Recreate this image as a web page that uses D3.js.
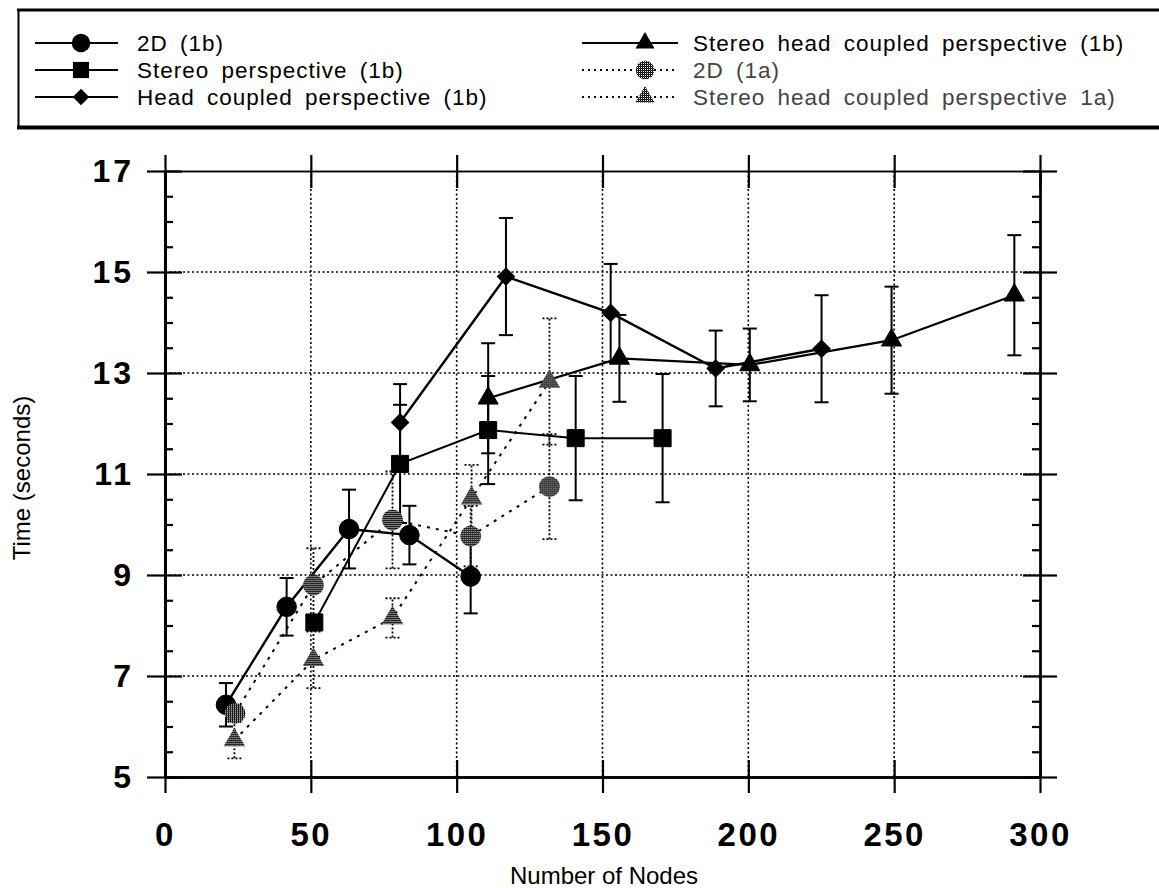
<!DOCTYPE html>
<html><head><meta charset="utf-8">
<script src="https://cdn.jsdelivr.net/npm/d3@7"></script>
<style>body{margin:0;background:#fff}svg{display:block}</style>
</head><body>
<svg id="chart" width="1159" height="888"></svg>
<script>
// ---------- data ----------
const seriesNames = ["2D (1b)", "Stereo perspective (1b)", "Head coupled perspective (1b)",
  "Stereo head coupled perspective (1b)", "2D (1a)", "Stereo head coupled perspective 1a)"];
const x2D1b = [20.9, 41.7, 63.1, 83.8, 104.8];
const y2D1b = [6.43, 8.37, 9.91, 9.79, 8.97];
const e2D1b = [0.43, 0.57, 0.78, 0.58, 0.73];
const xSP1b = [51.2, 80.6, 110.8, 140.8, 170.6];
const ySP1b = [8.06, 11.20, 11.87, 11.71, 11.71];
const eSP1b = [0, 1.17, 1.07, 1.23, 1.27];
const xHC1b = [80.6, 116.9, 152.8, 188.8, 225.1];
const yHC1b = [12.02, 14.91, 14.19, 13.09, 13.48];
const eHC1b = [0.76, 1.16, 0.97, 0.75, 1.06];
const xSHC1b = [110.8, 155.8, 200.5, 249.1, 291.2];
const ySHC1b = [12.50, 13.29, 13.16, 13.65, 14.54];
const eSHC1b = [1.09, 0.86, 0.72, 1.06, 1.19];
const x2D1a = [24.0, 50.9, 78.0, 104.8, 131.8];
const y2D1a = [6.26, 8.80, 10.09, 9.77, 10.75];
const e2D1a = [0, 0.73, 0.96, 0.6, 1.04];
const xSHC1a = [23.8, 50.9, 78.0, 105.1, 131.8];
const ySHC1a = [5.73, 7.32, 8.15, 10.52, 12.83];
const eSHC1a = [0.36, 0.56, 0.39, 0.66, 1.25];
const xTicks = [0, 50, 100, 150, 200, 250, 300];
const yTicks = [5, 7, 9, 11, 13, 15, 17];
const xTitle = "Number of Nodes";
const yTitle = "Time (seconds)";

// ---------- setup ----------
const svg = d3.select("#chart");
const defs = svg.append("defs");
const pat = defs.append("pattern").attr("id", "hatch").attr("patternUnits", "userSpaceOnUse")
  .attr("width", 2).attr("height", 2);
pat.append("rect").attr("width", 2).attr("height", 2).attr("fill", "#fff");
pat.append("rect").attr("x", 0).attr("y", 0).attr("width", 1).attr("height", 1).attr("fill", "#000").attr("shape-rendering", "crispEdges");
pat.append("rect").attr("x", 1).attr("y", 1).attr("width", 1).attr("height", 1).attr("fill", "#000").attr("shape-rendering", "crispEdges");
pat.append("rect").attr("x", 1).attr("y", 0).attr("width", 1).attr("height", 1).attr("fill", "#333").attr("shape-rendering", "crispEdges");

const L = 165, R = 1040, T = 171, B = 777;
const x = d3.scaleLinear().domain([0, 300]).range([L, R]);
const y = d3.scaleLinear().domain([5, 17]).range([B, T]);
const FONT = "'Liberation Sans', Arial, Helvetica, sans-serif";

// gridlines
const grid = svg.append("g");
grid.selectAll("line.gx").data(xTicks.filter(d => d > 0 && d < 300)).join("line")
  .attr("x1", d => x(d)).attr("x2", d => x(d)).attr("y1", T).attr("y2", B)
  .attr("stroke", "#000").attr("stroke-width", 1.6).attr("stroke-dasharray", "2,2.5");
grid.selectAll("line.gy").data(yTicks.filter(d => d > 5 && d < 17)).join("line")
  .attr("x1", L).attr("x2", R).attr("y1", d => y(d)).attr("y2", d => y(d))
  .attr("stroke", "#000").attr("stroke-width", 1.6).attr("stroke-dasharray", "2,2.5");

function styleAxis(g, w) {
  g.select(".domain").attr("stroke", "#000").attr("stroke-width", w);
  g.selectAll(".tick line").attr("stroke", "#000").attr("stroke-width", 2.2);
}
const minorY = d3.range(5, 17.01, 0.5).filter(v => Math.abs(v % 2 - 1) > 0.01);

// left axis
const gl = svg.append("g").attr("transform", `translate(${L},0)`)
  .call(d3.axisLeft(y).tickValues(yTicks).tickSize(18).tickPadding(13).tickSizeOuter(0).tickFormat(d3.format("d")));
styleAxis(gl, 3);
gl.selectAll("text").attr("font-family", FONT).attr("font-size", 32).attr("font-weight", "bold")
  .attr("letter-spacing", 3).attr("fill", "#000");
const gli = svg.append("g").attr("transform", `translate(${L},0)`)
  .call(d3.axisRight(y).tickValues(yTicks).tickSize(17).tickFormat("").tickSizeOuter(0));
styleAxis(gli, 3);
const glm = svg.append("g").attr("transform", `translate(${L},0)`)
  .call(d3.axisRight(y).tickValues(minorY).tickSize(8).tickFormat("").tickSizeOuter(0));
styleAxis(glm, 3);

// right axis
const gr = svg.append("g").attr("transform", `translate(${R},0)`)
  .call(d3.axisRight(y).tickValues(yTicks).tickSize(17).tickFormat("").tickSizeOuter(0));
styleAxis(gr, 2);
const gri = svg.append("g").attr("transform", `translate(${R},0)`)
  .call(d3.axisLeft(y).tickValues(yTicks).tickSize(17).tickFormat("").tickSizeOuter(0));
styleAxis(gri, 2);
const grm = svg.append("g").attr("transform", `translate(${R},0)`)
  .call(d3.axisLeft(y).tickValues(minorY).tickSize(8).tickFormat("").tickSizeOuter(0));
styleAxis(grm, 2);

// bottom axis
const gb = svg.append("g").attr("transform", `translate(0,${B})`)
  .call(d3.axisBottom(x).tickValues(xTicks).tickSize(16).tickPadding(30).tickSizeOuter(0).tickFormat(d3.format("d")));
styleAxis(gb, 2.5);
gb.selectAll("text").attr("font-family", FONT).attr("font-size", 33).attr("font-weight", "bold")
  .attr("letter-spacing", 2.5).attr("fill", "#000");
const gbi = svg.append("g").attr("transform", `translate(0,${B})`)
  .call(d3.axisTop(x).tickValues(xTicks).tickSize(17).tickFormat("").tickSizeOuter(0));
styleAxis(gbi, 2.5);

// top axis
const gt = svg.append("g").attr("transform", `translate(0,${T})`)
  .call(d3.axisTop(x).tickValues(xTicks).tickSize(16).tickFormat("").tickSizeOuter(0));
styleAxis(gt, 1.6);
const gti = svg.append("g").attr("transform", `translate(0,${T})`)
  .call(d3.axisBottom(x).tickValues(xTicks).tickSize(17).tickFormat("").tickSizeOuter(0));
styleAxis(gti, 1.6);

// axis titles
svg.append("text").attr("x", 604).attr("y", 884).attr("text-anchor", "middle")
  .attr("font-family", FONT).attr("font-size", 24).text(xTitle);
svg.append("text").attr("transform", `translate(30,478) rotate(-90)`).attr("text-anchor", "middle")
  .attr("font-family", FONT).attr("font-size", 24).text(yTitle);

// ---------- series ----------
const series = [
  {name: seriesNames[0], xs: x2D1b, ys: y2D1b, es: e2D1b, shape: "circle", fill: "#000", dash: null, lw: 2.4},
  {name: seriesNames[1], xs: xSP1b, ys: ySP1b, es: eSP1b, shape: "square", fill: "#000", dash: null, lw: 2},
  {name: seriesNames[2], xs: xHC1b, ys: yHC1b, es: eHC1b, shape: "diamond", fill: "#000", dash: null, lw: 2.4},
  {name: seriesNames[3], xs: xSHC1b, ys: ySHC1b, es: eSHC1b, shape: "triangle", fill: "#000", dash: null, lw: 2.2},
  {name: seriesNames[4], xs: x2D1a, ys: y2D1a, es: e2D1a, shape: "circle", fill: "url(#hatch)", dash: "3,6", lw: 2},
  {name: seriesNames[5], xs: xSHC1a, ys: ySHC1a, es: eSHC1a, shape: "triangle", fill: "url(#hatch)", dash: "3,6", lw: 2}
];
const symSize = {circle: 300, square: 290, diamond: 150, triangle: 175};
function symPath(shape, size) {
  const t = {circle: d3.symbolCircle, square: d3.symbolSquare, diamond: d3.symbolSquare, triangle: d3.symbolTriangle}[shape];
  return d3.symbol().type(t).size(size)();
}
const rot = shape => shape === "diamond" ? " rotate(45)" : "";
const line = d3.line().x(d => x(d[0])).y(d => y(d[1]));
const plot = svg.append("g");
series.forEach(s => {
  const pts = s.xs.map((v, i) => [v, s.ys[i], s.es[i]]);
  plot.append("path").datum(pts).attr("d", line).attr("fill", "none").attr("stroke", "#000")
    .attr("stroke-width", s.lw).attr("stroke-dasharray", s.dash);
});
series.forEach(s => {
  const pts = s.xs.map((v, i) => [v, s.ys[i], s.es[i]]).filter(p => p[2] > 0);
  const g = plot.append("g").attr("stroke", "#000").attr("stroke-width", s.dash ? 1.8 : 2)
    .attr("stroke-dasharray", s.dash ? "2,2" : null);
  g.selectAll("line.v").data(pts).join("line")
    .attr("x1", d => x(d[0])).attr("x2", d => x(d[0])).attr("y1", d => y(d[1] - d[2])).attr("y2", d => y(d[1] + d[2]));
  g.selectAll("line.t").data(pts).join("line")
    .attr("x1", d => x(d[0]) - 7).attr("x2", d => x(d[0]) + 7).attr("y1", d => y(d[1] + d[2])).attr("y2", d => y(d[1] + d[2]));
  g.selectAll("line.b").data(pts).join("line")
    .attr("x1", d => x(d[0]) - 7).attr("x2", d => x(d[0]) + 7).attr("y1", d => y(d[1] - d[2])).attr("y2", d => y(d[1] - d[2]));
});
series.forEach(s => {
  const pts = s.xs.map((v, i) => [v, s.ys[i]]);
  const sz = s.fill === "#000" ? symSize[s.shape] : symSize[s.shape] * 1.15;
  plot.selectAll(null).data(pts).join("path")
    .attr("transform", d => `translate(${x(d[0])},${y(d[1])})${rot(s.shape)}`)
    .attr("d", symPath(s.shape, sz)).attr("fill", s.fill).attr("stroke", s.fill === "#000" ? "#000" : "none");
});

// ---------- legend ----------
const lg = svg.append("g");
lg.append("rect").attr("x", 18.5).attr("y", 10).attr("width", 1160).attr("height", 117.5)
  .attr("fill", "#fff").attr("stroke", "#000").attr("stroke-width", 2);
lg.append("line").attr("x1", 17).attr("x2", 1159).attr("y1", 10).attr("y2", 10).attr("stroke", "#000").attr("stroke-width", 3);
lg.append("line").attr("x1", 17).attr("x2", 1159).attr("y1", 127.5).attr("y2", 127.5).attr("stroke", "#000").attr("stroke-width", 4);
const legPos = [
  {lx: 35, mx: 81, rx: 118, tx: 137, ty: 43},
  {lx: 35, mx: 81, rx: 118, tx: 137, ty: 70},
  {lx: 35, mx: 81, rx: 118, tx: 137, ty: 97},
  {lx: 582, mx: 645, rx: 678, tx: 693, ty: 43},
  {lx: 582, mx: 645, rx: 678, tx: 693, ty: 70},
  {lx: 582, mx: 645, rx: 678, tx: 693, ty: 97}
];
series.forEach((s, i) => {
  const p = legPos[i];
  lg.append("line").attr("x1", p.lx).attr("x2", p.rx).attr("y1", p.ty).attr("y2", p.ty)
    .attr("stroke", "#000").attr("stroke-width", s.dash ? 1.8 : 2).attr("stroke-dasharray", s.dash ? "2,4" : null);
  lg.append("path").attr("transform", `translate(${p.mx},${p.ty})${rot(s.shape)}`).attr("d", symPath(s.shape, symSize[s.shape] * 0.9))
    .attr("fill", s.fill);
  lg.append("text").attr("x", p.tx).attr("y", p.ty).attr("dy", "0.36em")
    .attr("font-family", FONT).attr("font-size", 22.5).attr("letter-spacing", 1).attr("word-spacing", 5)
    .attr("fill", s.dash ? "#444" : "#000").text(s.name);
});
</script>
</body></html>
